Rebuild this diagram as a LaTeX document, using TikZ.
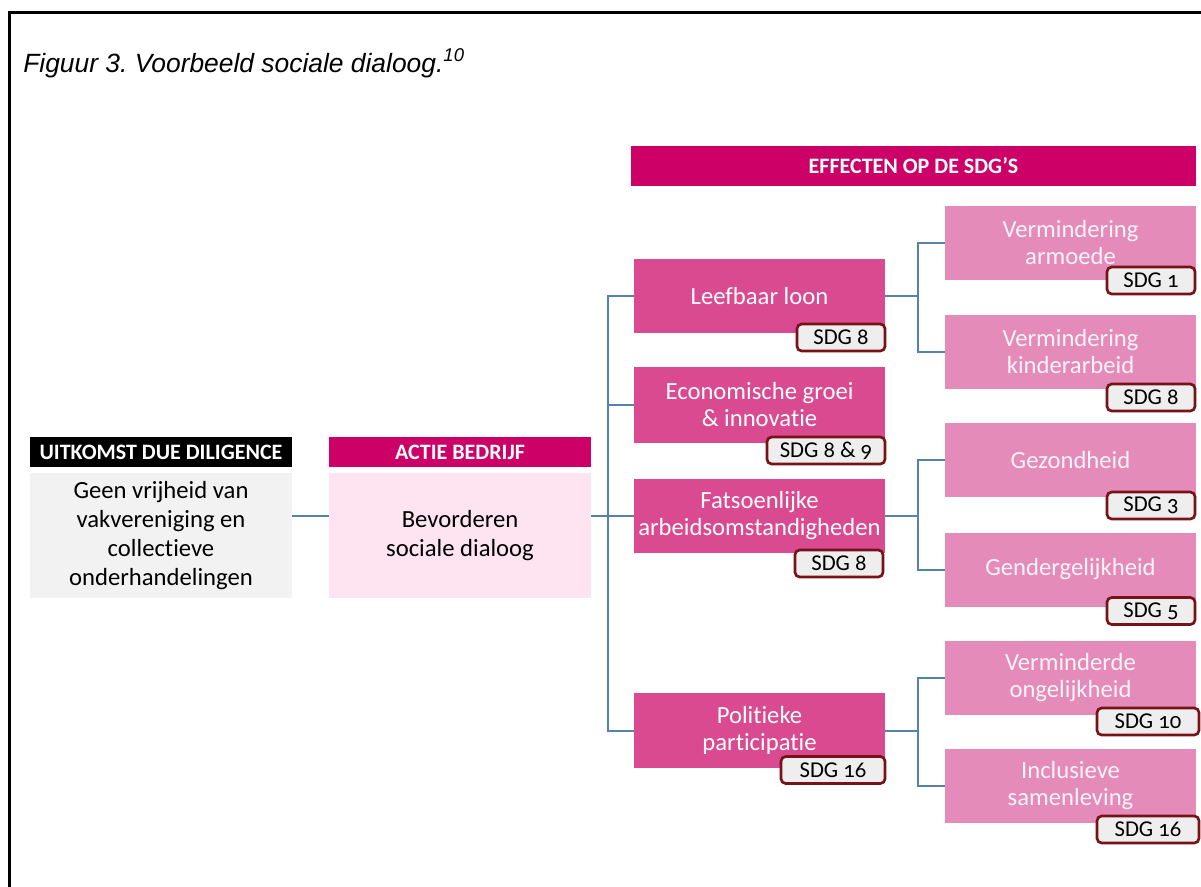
\documentclass[tikz,border=0pt]{standalone}
\usepackage{fontspec}
\setmainfont{Carlito}[RawFeature={-liga;-clig;-calt;-dlig}]
\newfontfamily\titlefont{Liberation Sans}
\newfontfamily\tagfont{Carlito}[Numbers=OldStyle]
\definecolor{hdr}{RGB}{204,0,102}
\definecolor{midpink}{RGB}{218,74,145}
\definecolor{lightpink}{RGB}{229,139,186}
\definecolor{actfill}{RGB}{253,228,240}
\definecolor{grayfill}{RGB}{242,242,242}
\definecolor{tagborder}{RGB}{118,18,24}
\definecolor{tagfill}{RGB}{238,238,238}
\definecolor{connblue}{RGB}{84,130,172}
\definecolor{softwhite}{RGB}{253,243,248}
\frenchspacing
\begin{document}
\begin{tikzpicture}[x=0.75pt,y=-0.75pt,
  box/.style={rectangle, inner sep=0pt, align=center},
  bodytext/.style={font=\fontsize{18.5}{20.25}\selectfont},
  graybox/.style={box, fill=grayfill, text=black, minimum width=196.5pt, minimum height=93.75pt, font=\fontsize{18.5}{21.75}\selectfont},
  actbox/.style={box, fill=actfill, text=black, minimum width=196.5pt, minimum height=93.75pt, font=\fontsize{18.5}{21.75}\selectfont},
  hdrbox/.style={box, minimum width=196.5pt, minimum height=22.5pt, text=white, font=\bfseries\fontsize{16.5}{18}\selectfont},
  effhdr/.style={box, fill=hdr, minimum width=423.75pt, minimum height=30pt, text=white, font=\bfseries\fontsize{16.5}{18}\selectfont},
  midbox/.style={box, bodytext, fill=midpink, text=white, minimum width=188.25pt, minimum height=55.5pt},
  rightbox/.style={box, bodytext, fill=lightpink, text=softwhite, minimum width=188.25pt, minimum height=55.5pt},
  tagbox/.style={box, draw=tagborder, line width=2pt, rounded corners=3.5pt, fill=tagfill, text=black, minimum height=20.25pt, font=\tagfont\fontsize{17}{17}\selectfont},
  conn/.style={draw=connblue, line width=1.5pt}
]
\useasboundingbox (0,0) rectangle (1201,886);
\fill[white] (0,0) rectangle (1201,886);
% frame
\draw[line width=2.25pt] (1215,12) -- (9,12) -- (9,900);
% title
\node[anchor=base west, inner sep=0pt, font=\titlefont\itshape\fontsize{19.8}{22}\selectfont] (title) at (23,72) {Figuur 3. Voorbeeld sociale dialoog.\textsuperscript{10}};

% left column
\node[hdrbox, fill=black] (uitk) at (161,452) {UITKOMST DUE DILIGENCE};
\node[graybox] (gray) at (161,535.5) {Geen vrijheid van\\vakvereniging en\\collectieve\\onderhandelingen};
\node[hdrbox, fill=hdr] (actie) at (460,452) {ACTIE BEDRIJF};
\node[actbox] (act) at (460,535.5) {Bevorderen\\sociale dialoog};

% effects header
\node[effhdr] (eff) at (913.5,166) {EFFECTEN OP DE SDG’S};

% middle column
\node[midbox] (leef) at (759.5,296) {Leefbaar loon};
\node[midbox, minimum height=57pt] (eco) at (759.5,405) {Economische groei\\\& innovatie};
\node[midbox] (fats) at (759.5,516) {Fatsoenlijke\\arbeidsomstandigheden};
\node[midbox, minimum height=56.25pt] (pol) at (759.5,730.5) {Politieke\\participatie};

% right column
\node[rightbox] (arm) at (1070.5,243) {Vermindering\\armoede};
\node[rightbox] (kind) at (1070.5,351.5) {Vermindering\\kinderarbeid};
\node[rightbox] (gez) at (1070.5,460) {Gezondheid};
\node[rightbox] (gen) at (1070.5,569.5) {Gendergelijkheid};
\node[rightbox] (ong) at (1070.5,678) {Verminderde\\ongelijkheid};
\node[rightbox] (incl) at (1070.5,786) {Inclusieve\\samenleving};

% tags
\node[tagbox, minimum width=66pt] (tleef) at (841,337.5) {SDG 8};
\node[tagbox, minimum width=88.5pt] (teco) at (826,450.5) {SDG 8 \& 9};
\node[tagbox, minimum width=66pt] (tfats) at (839,563.5) {SDG 8};
\node[tagbox, minimum width=78pt] (tpol) at (833,770) {SDG 16};
\node[tagbox, minimum width=66pt] (tarm) at (1151,280.5) {SDG 1};
\node[tagbox, minimum width=66pt] (tkind) at (1151,397.5) {SDG 8};
\node[tagbox, minimum width=66pt] (tgez) at (1151,505.5) {SDG 3};
\node[tagbox, minimum width=66pt] (tgen) at (1151,611) {SDG 5};
\node[tagbox, minimum width=76.5pt] (tong) at (1148,721.5) {SDG 10};
\node[tagbox, minimum width=76.5pt] (tincl) at (1148,829.5) {SDG 16};

% connectors
\coordinate (trunk) at (608,0);
\coordinate (br) at (918,0);
\draw[conn] (gray.east |- fats.west) -- (act.west |- fats.west);
\draw[conn] (act.east |- fats.west) -- (fats.west);
\draw[conn] (leef.west) -- (leef.west -| trunk) -- (pol.west -| trunk) -- (pol.west);
\draw[conn] (eco.west) -- (eco.west -| trunk);

\draw[conn] (leef.east) -- (leef.east -| br);
\draw[conn] (arm.west) -- (arm.west -| br) -- (kind.west -| br) -- (kind.west);
\draw[conn] (fats.east) -- (fats.east -| br);
\draw[conn] (gez.west) -- (gez.west -| br) -- (gen.west -| br) -- (gen.west);
\draw[conn] (pol.east) -- (pol.east -| br);
\draw[conn] (ong.west) -- (ong.west -| br) -- (incl.west -| br) -- (incl.west);
\end{tikzpicture}
\end{document}
